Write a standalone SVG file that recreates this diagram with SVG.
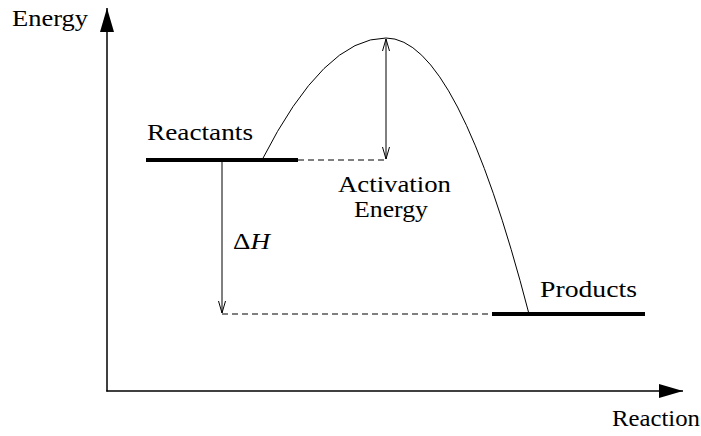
<svg xmlns="http://www.w3.org/2000/svg" width="701" height="436" viewBox="0 0 701 436" font-family="Liberation Serif, DejaVu Serif, serif">
<style>
text{font-size:24px;fill:#000}
.thin{stroke:#000;stroke-width:1;fill:none}
.dash{stroke:#000;stroke-width:1;stroke-dasharray:6,4;fill:none}
.thick{stroke:#000;stroke-width:4;fill:none}
</style>
<defs>
<marker id="open" viewBox="0 0 12 8" refX="12" refY="4" markerWidth="12" markerHeight="8" markerUnits="userSpaceOnUse" orient="auto-start-reverse">
<path d="M0,0.5 L12,4 L0,7.5" fill="none" stroke="#000" stroke-width="1"/>
</marker>
<marker id="solid" viewBox="0 0 24 14" refX="24" refY="7" markerWidth="24" markerHeight="14" markerUnits="userSpaceOnUse" orient="auto">
<path d="M0,0 L24,7 L0,14 Z" fill="#000"/>
</marker>
</defs>
<g id="axes">
<line x1="107" y1="391.5" x2="107" y2="8" stroke="#000" stroke-width="1.5" marker-end="url(#solid)"/>
<line x1="106.3" y1="391" x2="683" y2="391" stroke="#000" stroke-width="1.5" marker-end="url(#solid)"/>
<text x="12" y="26" font-family="Liberation Serif, serif" textLength="76" lengthAdjust="spacingAndGlyphs">Energy</text>
<text x="612" y="426" font-family="Liberation Serif, serif" textLength="88" lengthAdjust="spacingAndGlyphs">Reaction</text>
</g>
<g id="reactants">
<line class="thick" x1="146" y1="160" x2="298" y2="160"/>
<text x="147" y="140" font-family="Liberation Serif, serif" textLength="106" lengthAdjust="spacingAndGlyphs">Reactants</text>
</g>
<g id="products">
<line class="thick" x1="492" y1="314" x2="645" y2="314"/>
<text x="540" y="297" font-family="Liberation Serif, serif" textLength="97" lengthAdjust="spacingAndGlyphs">Products</text>
</g>
<g id="curve">
<path class="thin" d="M262,160 Q324,38 386,38 Q457.5,38 529,314"/>
</g>
<g id="connectors">
<line class="dash" x1="298" y1="160" x2="386" y2="160"/>
<line class="dash" x1="222" y1="314" x2="492" y2="314"/>
<line class="thin" x1="386" y1="159" x2="386" y2="39" marker-start="url(#open)" marker-end="url(#open)"/>
<line class="thin" x1="222" y1="162" x2="222" y2="313" marker-end="url(#open)"/>
</g>
<g id="labels">
<text x="338" y="192" font-family="Liberation Serif, serif" textLength="113" lengthAdjust="spacingAndGlyphs">Activation</text>
<text x="354" y="217" font-family="Liberation Serif, serif" textLength="74" lengthAdjust="spacingAndGlyphs">Energy</text>
<text x="233" y="249" font-family="Liberation Serif, serif" textLength="37" lengthAdjust="spacingAndGlyphs">Δ<tspan font-style="italic">H</tspan></text>
</g>
</svg>
